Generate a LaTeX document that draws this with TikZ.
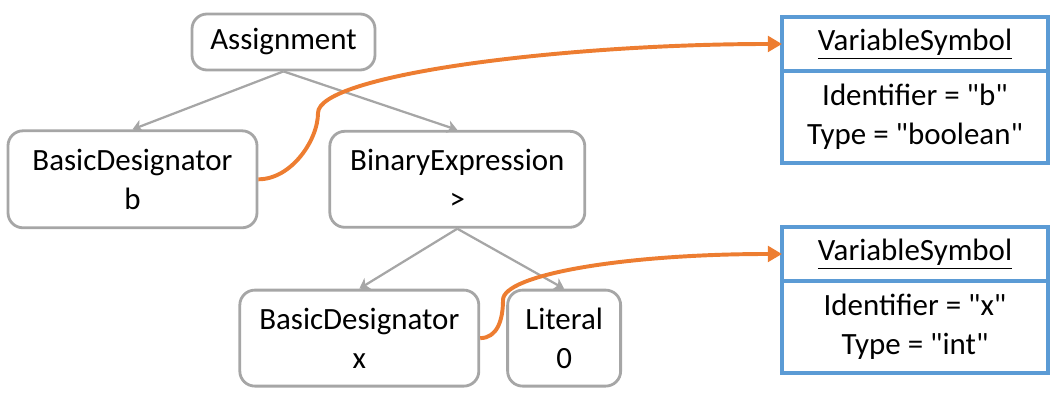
\documentclass[tikz,border=0pt]{standalone}
\usepackage{fontspec}
\setmainfont{Carlito}
\usetikzlibrary{arrows.meta, positioning, calc}
\definecolor{treegray}{RGB}{166,166,166}
\definecolor{symblue}{RGB}{91,155,213}
\definecolor{linkorange}{RGB}{237,125,49}
\newcommand{\quoted}[1]{\textquotedbl#1\textquotedbl}

\begin{document}
\begin{tikzpicture}[
    font=\fontsize{22}{28}\selectfont,
    astnode/.style={draw=treegray, line width=2pt, rounded corners=0.375cm, fill=white, align=center, inner sep=0pt},
    symhead/.style={draw=symblue, line width=2.4pt, minimum width=6.65cm, minimum height=1.35cm, inner sep=0pt, outer sep=0pt},
    symbody/.style={draw=symblue, line width=2.4pt, minimum width=6.65cm, minimum height=2.3cm, inner sep=0pt, outer sep=0pt, align=center},
    child/.style={draw=treegray, line width=1.6pt, -{Stealth[length=7pt,width=9pt,inset=2pt]}},
    symlink/.style={draw=linkorange, line width=2.8pt, -{Triangle[length=10pt,width=11pt]}}
  ]
        \useasboundingbox (0,0) rectangle (26.525,10);

        \node[astnode, minimum width=4.575cm, minimum height=1.4cm] (asg) at (7.0875,8.95) {Assignment};
        \node[astnode, minimum width=6.225cm, minimum height=2.425cm, below=1.45cm of asg, xshift=-3.775cm] (bdb) {BasicDesignator\\b};
        \node[astnode, minimum width=6.375cm, minimum height=2.4cm, right=1.75cm of bdb] (bin) {BinaryExpression\\>};
        \node[astnode, minimum width=5.975cm, minimum height=2.4cm, below=1.5cm of bin, xshift=-2.45cm] (bdx) {BasicDesignator\\x};
        \node[astnode, minimum width=2.825cm, minimum height=2.4cm, right=0.65cm of bdx] (lit) {Literal\\0};

        \node[symhead] (vsb) at (22.875,8.9) {\underline{VariableSymbol}};
        \node[symbody, below=0pt of vsb] (vsbbody) {Identifier = \quoted{b}\\Type = \quoted{boolean}};
        \node[symhead, below=1.6cm of vsbbody] (vsx) {\underline{VariableSymbol}};
        \node[symbody, below=0pt of vsx] (vsxbody) {Identifier = \quoted{x}\\Type = \quoted{int}};

        \draw[child] (asg.south) -- (bdb.north);
        \draw[child] (asg.south) -- (bin.north);
        \draw[child] (bin.south) -- (bdx.north);
        \draw[child] (bin.south) -- (lit.north);

        \coordinate (bendb) at (7.95,7.175);
        \coordinate (bendx) at (12.575,2.5);
        \draw[symlink] (bdb.east) .. controls +(0.825,0) and +(0,-0.675) .. (bendb) .. controls +(0,0.95) and +(-5.5,0) .. (vsb.west);
        \draw[symlink] (bdx.east) .. controls +(0.425,0) and +(0,-0.5) .. (bendx) .. controls +(0,0.625) and +(-4,0) .. (vsx.west);
\end{tikzpicture}
\end{document}
